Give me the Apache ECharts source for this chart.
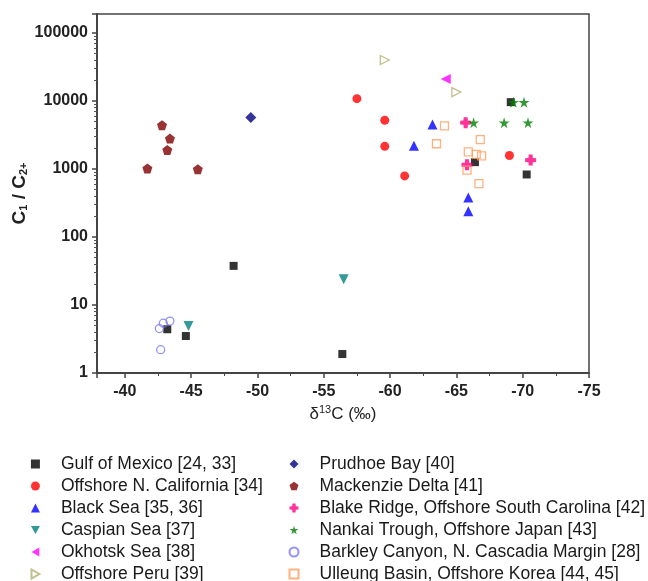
<!DOCTYPE html>
<html>
<head>
<meta charset="utf-8">
<script src="https://cdn.jsdelivr.net/npm/echarts@6/dist/echarts.min.js"></script>
<style>
  html, body { margin: 0; padding: 0; background: #fff; }
  #main { width: 648px; height: 581px; }
</style>
</head>
<body>
<div id="main"></div>
<script>
// δ13C (‰) vs C1/C2+
const gulfOfMexico = [[-48.2, 37.6], [-43.2, 4.4], [-44.6, 3.5], [-56.4, 1.9], [-69.1, 9600], [-66.4, 1260], [-70.3, 830]];
const nCalifornia = [[-57.5, 10800], [-59.6, 5200], [-59.6, 2150], [-61.1, 790], [-69.0, 1580]];
const blackSea = [[-63.2, 4500], [-61.8, 2200], [-65.9, 380], [-65.9, 240]];
const caspianSea = [[-44.8, 4.9], [-56.5, 24]];
const okhotskSea = [[-64.2, 21000]];
const offshorePeru = [[-59.6, 40000], [-65.0, 13500]];
const prudhoeBay = [[-49.5, 5700]];
const mackenzieDelta = [[-42.8, 4400], [-43.4, 2800], [-43.2, 1900], [-41.7, 1020], [-45.5, 990]];
const blakeRidge = [[-65.7, 4800], [-70.6, 1350], [-65.8, 1150]];
const nankaiTrough = [[-69.3, 9600], [-70.1, 9600], [-66.3, 4800], [-68.6, 4800], [-70.4, 4800]];
const barkleyCanyon = [[-42.6, 4.5], [-42.9, 5.4], [-43.4, 5.8], [-42.7, 2.2]];
const ulleungBasin = [[-64.1, 4300], [-63.5, 2350], [-66.8, 2700], [-65.9, 1790], [-66.5, 1640], [-66.9, 1560], [-65.8, 960], [-66.7, 610]];

const leftNames = ['Gulf of Mexico [24, 33]', 'Offshore N. California [34]', 'Black Sea [35, 36]', 'Caspian Sea [37]', 'Okhotsk Sea [38]', 'Offshore Peru [39]'];
const rightNames = ['Prudhoe Bay [40]', 'Mackenzie Delta [41]', 'Blake Ridge, Offshore South Carolina [42]', 'Nankai Trough, Offshore Japan [43]', 'Barkley Canyon, N. Cascadia Margin [28]', 'Ulleung Basin, Offshore Korea [44, 45]'];

// symbol shapes
const DOWN_TRI = 'path://M0,0 L100,0 L50,87 Z';
const LEFT_TRI = 'path://M0,50 L87,0 L87,100 Z';
const RIGHT_TRI = 'path://M0,0 L87,50 L0,100 Z';
const PENTAGON = 'path://M50,0 L98,35 L79,91 L21,91 L2,35 Z';
const STAR = 'path://M50,0 L61,35 L98,35 L68,57 L79,91 L50,70 L21,91 L32,57 L2,35 L39,35 Z';
const CROSS = 'path://M32,0 L68,0 L70,30 L100,32 L100,68 L70,70 L68,100 L32,100 L30,70 L0,68 L0,32 L30,30 Z';

function sc(name, data, symbol, size, color, hollow) {
  return {
    type: 'scatter',
    name: name,
    data: data,
    symbol: symbol,
    symbolSize: size,
    itemStyle: hollow
      ? { color: 'rgba(255,255,255,0)', borderColor: color, borderWidth: 1.3 }
      : { color: color },
    emphasis: { disabled: true }
  };
}

const chart = echarts.init(document.getElementById('main'), null, { renderer: 'canvas' });

const legendCommon = {
  orient: 'vertical',
  top: 455,
  height: 160,
  padding: 0,
  itemWidth: 9,
  itemHeight: 9,
  itemGap: 4,
  textStyle: {
    fontFamily: 'Liberation Sans, Arial', fontSize: 17.5, color: '#1a1a1a',
    padding: [0, 0, 0, 16]
  },
  selectedMode: false
};

chart.setOption({
  animation: false,
  backgroundColor: '#fff',
  grid: {
    left: 97, right: 59, top: 14, bottom: 208,
    outerBoundsMode: 'none',
    show: true, borderColor: '#444', borderWidth: 1.5
  },
  legend: [
    Object.assign({ left: 30.5, data: leftNames }, legendCommon),
    Object.assign({ left: 288.5, data: rightNames }, legendCommon)
  ],
  xAxis: {
    type: 'value',
    inverse: true,
    min: -75,
    max: -37.9,
    interval: 5,
    name: '{n|δ}{sup|13}{n|C (‰)}',
    nameLocation: 'middle',
    nameGap: 29,
    nameTextStyle: {
      rich: {
        n: { fontFamily: 'Liberation Sans, Arial', fontSize: 17, color: '#222' },
        sup: { fontFamily: 'Liberation Sans, Arial', fontSize: 11, color: '#222', verticalAlign: 'top', padding: [0, 0, 8, 0] }
      }
    },
    axisLine: { lineStyle: { color: '#444', width: 2 } },
    axisTick: { inside: false, length: 5, lineStyle: { color: '#444', width: 1.5 } },
    minorTick: { show: true, splitNumber: 2, length: 3, lineStyle: { color: '#444' } },
    splitLine: { show: false },
    axisLabel: {
      margin: 11, fontFamily: 'Liberation Sans, Arial', fontSize: 16, fontWeight: 'bold', color: '#222',
      showMaxLabel: false
    }
  },
  yAxis: {
    type: 'log',
    logBase: 10,
    min: 1,
    max: 190000,
    name: '{n|C}{sub|1}{n| / C}{sub|2+}',
    nameLocation: 'middle',
    nameMoveOverlap: false,
    nameGap: 68,
    nameTextStyle: {
      rich: {
        n: { fontFamily: 'Liberation Sans, Arial', fontSize: 19, fontWeight: 'bold', color: '#222' },
        sub: { fontFamily: 'Liberation Sans, Arial', fontSize: 11, fontWeight: 'bold', color: '#222', padding: [8, 0, 0, 0] }
      }
    },
    axisLine: { show: true, lineStyle: { color: '#444', width: 2 } },
    axisTick: { inside: false, length: 5, lineStyle: { color: '#444', width: 1.5 } },
    minorTick: { show: true, splitNumber: 9, length: 3, lineStyle: { color: '#555' } },
    splitLine: { show: false },
    axisLabel: {
      margin: 9, fontFamily: 'Liberation Sans, Arial', fontSize: 16, fontWeight: 'bold', color: '#222',
      showMaxLabel: false,
      formatter: function (v) { return String(Math.round(v)); }
    }
  },
  series: [
    sc(leftNames[0], gulfOfMexico, 'rect', 8, '#000000'),
    sc(leftNames[1], nCalifornia, 'circle', 9, '#ff0000'),
    sc(leftNames[2], blackSea, 'triangle', 10, '#0000ff'),
    sc(leftNames[3], caspianSea, DOWN_TRI, 10, '#008080'),
    sc(leftNames[4], okhotskSea, LEFT_TRI, 10, '#ff00ff'),
    sc(leftNames[5], offshorePeru, RIGHT_TRI, 9, '#b0b070', true),
    sc(rightNames[0], prudhoeBay, 'diamond', 11, '#000080'),
    sc(rightNames[1], mackenzieDelta, PENTAGON, 10, '#800000'),
    sc(rightNames[2], blakeRidge, CROSS, 11, '#ff0080'),
    sc(rightNames[3], nankaiTrough, STAR, 11, '#008000'),
    sc(rightNames[4], barkleyCanyon, 'circle', 8, '#7878f0', true),
    sc(rightNames[5], ulleungBasin, 'rect', 8, '#ff9f5f', true)
  ]
});
</script>
</body>
</html>
